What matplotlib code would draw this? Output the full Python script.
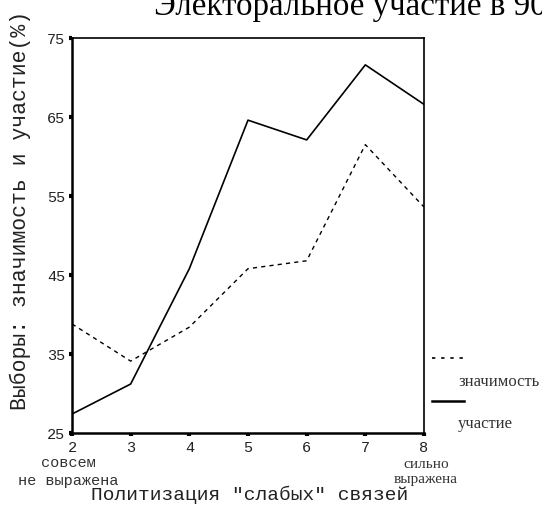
import matplotlib
matplotlib.use("Agg")
import matplotlib.pyplot as plt

# данные
politizatsiya = [2, 3, 4, 5, 6, 7, 8]
znachimost = [38.8, 34.1, 38.4, 45.8, 46.8, 61.5, 53.6]
uchastie = [27.4, 31.2, 45.8, 64.6, 62.1, 71.6, 66.6]
y_ticks = [25, 35, 45, 55, 65, 75]

mono = "Liberation Mono"
serif = "Liberation Serif"
plt.rcParams["font.family"] = mono

fig = plt.figure(figsize=(5.42, 5.10), dpi=100)
ax = fig.add_axes([72 / 542, 1 - 434 / 510, (424 - 72) / 542, (434 - 39) / 510])

ax.plot(politizatsiya, znachimost, color="black", lw=1.0, linestyle=(0, (3, 3)))
ax.plot(politizatsiya, uchastie, color="black", lw=1.2)

ax.set_xlim(2, 8)
ax.set_ylim(25, 75)
ax.set_xticks(politizatsiya)
ax.set_yticks(y_ticks)
ax.tick_params(direction="out", length=2, width=3, labelsize=11, labelcolor="#222222", pad=3)
for s in ["left", "bottom"]:
    ax.spines[s].set_linewidth(1.8)
for s in ["top", "right"]:
    ax.spines[s].set_linewidth(1.2)

ax.set_xlabel('Политизация "слабых" связей', fontsize=14, color="#222222")
ax.xaxis.set_label_coords((250 - 72) / 352, -(495 - 434) / 395)
ax.xaxis.label.set_va("center")
ax.set_ylabel("Выборы: значимость и участие(%)", fontsize=15.5, color="#222222")
ax.yaxis.set_label_coords(-(72 - 20) / 352, (434 - 210) / 395)
ax.yaxis.label.set_va("center")

# подписи концов шкалы
fig.text(68 / 542, 1 - 472 / 510, "совсем\nне выражена", ha="center", va="center",
         fontsize=11, linespacing=1.3, color="#333333")
fig.text(426 / 542, 1 - 472 / 510, "сильно\nвыражена", ha="center", va="center",
         fontfamily=serif, fontsize=11, linespacing=1.2, color="#333333")

# легенда справа
fig.add_artist(plt.Line2D([432 / 542, 464 / 542], [1 - 359 / 510] * 2, color="black",
                          lw=1.2, linestyle=(0, (2, 3.5))))
fig.text(458 / 542, 1 - 382 / 510, "значимость", va="center", fontfamily=serif,
         fontsize=12, color="#333333")
fig.add_artist(plt.Line2D([432 / 542, 464 / 542], [1 - 402 / 510] * 2, color="black", lw=1.8))
fig.text(458 / 542, 1 - 424 / 510, "участие", va="center", fontfamily=serif,
         fontsize=12, color="#333333")

# заголовок (обрезан сверху и справа)
fig.text(154 / 542, 1 - 15 / 510, "Электоральное участие в 90е годы", ha="left",
         va="baseline", fontfamily=serif, fontsize=23.8)

fig.savefig("out.png", dpi=100)
